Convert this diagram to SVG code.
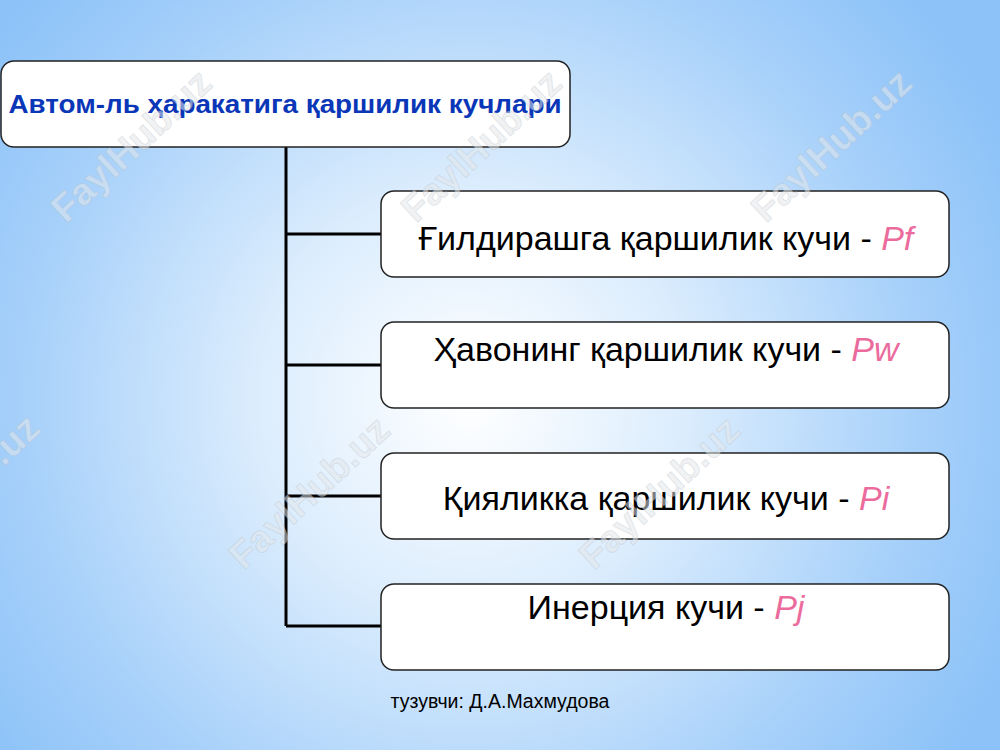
<svg xmlns="http://www.w3.org/2000/svg" width="1000" height="750" viewBox="0 0 1000 750">
<defs>
<radialGradient id="bg" cx="470" cy="400" r="600" gradientUnits="userSpaceOnUse">
<stop offset="0" stop-color="#ffffff"/>
<stop offset="0.35" stop-color="#dcedfd"/>
<stop offset="0.75" stop-color="#a6d0fa"/>
<stop offset="1" stop-color="#8cc2f8"/>
</radialGradient>
<style>
.box{fill:#ffffff;stroke:#222222;stroke-width:1.5}
.conn{stroke:#000000;stroke-width:3;fill:none}
.lbl{font-family:"Liberation Sans",Arial,sans-serif;font-size:34px;fill:#000000;text-anchor:middle}
.sym{fill:#ec6b9d;font-style:italic}
.wm{font-family:"Liberation Sans",Arial,sans-serif;font-weight:bold;font-size:38px;fill:#e4e8ec;fill-opacity:0.55;stroke:#a8b0b8;stroke-opacity:0.25;stroke-width:1;text-anchor:middle}
</style>
</defs>
<rect width="1000" height="750" fill="url(#bg)"/>
<g id="connectors">
<path class="conn" d="M286,147 V626 M286,234 H381 M286,365 H381 M286,496 H381 M286,626 H381"/>
</g>
<g id="root">
<rect class="box" x="1" y="61" width="569" height="86" rx="13"/>
<text x="285" y="113" font-family="'Liberation Sans',Arial,sans-serif" font-weight="bold" font-size="25" fill="#0a36b8" text-anchor="middle" textLength="553" lengthAdjust="spacingAndGlyphs">Автом-ль ҳаракатига қаршилик кучлари</text>
</g>
<g id="n1">
<rect class="box" x="381" y="191" width="568" height="86" rx="13"/>
<text class="lbl" x="666" y="250">Ғилдирашга қаршилик кучи - <tspan class="sym">Pf</tspan></text>
</g>
<g id="n2">
<rect class="box" x="381" y="322" width="568" height="86" rx="13"/>
<text class="lbl" x="666" y="361">Ҳавонинг қаршилик кучи - <tspan class="sym">Pw</tspan></text>
</g>
<g id="n3">
<rect class="box" x="381" y="453" width="568" height="86" rx="13"/>
<text class="lbl" x="666" y="510">Қияликка қаршилик кучи - <tspan class="sym">Pi</tspan></text>
</g>
<g id="n4">
<rect class="box" x="381" y="584" width="568" height="86" rx="13"/>
<text class="lbl" x="666" y="619">Инерция кучи - <tspan class="sym">Pj</tspan></text>
</g>
<text id="author" x="500" y="708" font-family="'Liberation Sans',Arial,sans-serif" font-size="19.5" fill="#000000" text-anchor="middle">тузувчи: Д.А.Махмудова</text>
<g id="watermarks">
<text class="wm" transform="translate(140,155) rotate(-43)">FaylHub.uz</text>
<text class="wm" transform="translate(490,155) rotate(-43)">FaylHub.uz</text>
<text class="wm" transform="translate(840,155) rotate(-43)">FaylHub.uz</text>
<text class="wm" transform="translate(-32,500) rotate(-43)">FaylHub.uz</text>
<text class="wm" transform="translate(318,502) rotate(-43)">FaylHub.uz</text>
<text class="wm" transform="translate(668,502) rotate(-43)">FaylHub.uz</text>
</g>
</svg>
